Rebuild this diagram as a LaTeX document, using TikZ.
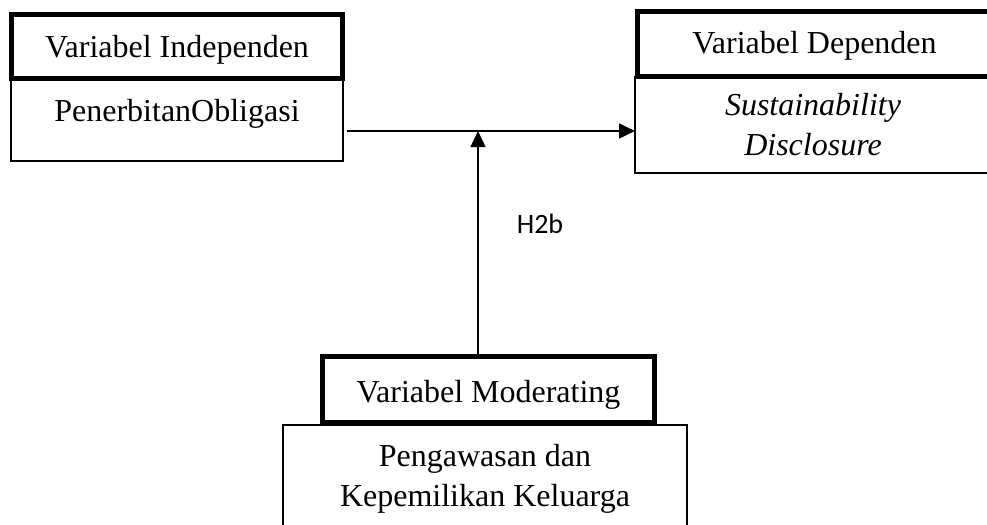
\documentclass[tikz,border=0pt]{standalone}
\usepackage{fontspec}
\setmainfont{Liberation Serif}
\newfontfamily\labelfont{Carlito}
\usetikzlibrary{arrows.meta,calc}
\begin{document}
\begin{tikzpicture}[x=0.75pt,y=-0.75pt,
  headbox/.style={draw, line width=3.75pt, inner sep=0pt, outer sep=0pt, anchor=north west, font=\fontsize{24}{30}\selectfont},
  bodybox/.style={draw, line width=0.8pt, inner sep=0pt, outer sep=0pt, anchor=north west, align=center, font=\fontsize{24}{30}\selectfont},
  conn/.style={line width=1.9pt, -{Triangle[length=12pt,width=11pt]}},
  hlabel/.style={font=\labelfont\fontsize{21}{25}\selectfont, anchor=base, inner sep=0pt}]
\useasboundingbox (0,0) rectangle (987,524);
\fill[white] (0,0) rectangle (987,524);
\begin{scope}
\clip (0,0) rectangle (987,524);
% bodies
\node[bodybox, minimum width=249pt, text height=32.25pt, text depth=29.25pt] (indB) at (11,79) {PenerbitanObligasi};
\node[bodybox, minimum width=267pt, minimum height=72pt] (depB) at (635,77) {\textit{Sustainability}\\\textit{Disclosure}};
\node[bodybox, minimum width=303pt, minimum height=80.25pt] (modB) at (283,425) {Pengawasan dan\\Kepemilikan Keluarga};
% headers
\node[headbox, minimum width=248.25pt, text height=31.9pt, text depth=16.1pt] (indH) at (11.5,14.5) {Variabel Independen};
\node[headbox, minimum width=265.5pt, text height=31.5pt, text depth=17.25pt] (depH) at (637.5,12) {Variabel Dependen};
\node[headbox, minimum width=249pt, text height=34.5pt, text depth=15pt] (modH) at (322.5,356) {Variabel Moderating};
% connectors
\coordinate (mid) at (478,131);
\draw[conn] ($(indB.east |- mid)+(4,0)$) -- (depB.west |- mid);
\draw[conn] (mid |- modH.north) -- (mid);
\node[hlabel] (h2b) at (540,233) {H2b};
\end{scope}
\end{tikzpicture}
\end{document}
